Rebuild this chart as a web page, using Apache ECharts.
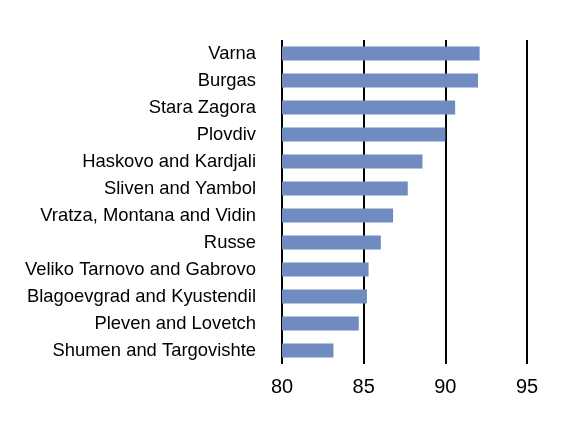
<!DOCTYPE html>
<html>
<head>
<meta charset="utf-8">
<script src="https://cdn.jsdelivr.net/npm/echarts@6/dist/echarts.min.js"></script>
<style>
  html, body { margin: 0; padding: 0; background: #fff; }
  #chart { width: 576px; height: 436px; }
</style>
</head>
<body>
<div id="chart"></div>
<script>
  // regions, bottom to top as echarts draws category axis upward
  var regions = [
    'Shumen and Targovishte',
    'Pleven and Lovetch',
    'Blagoevgrad and Kyustendil',
    'Veliko Tarnovo and Gabrovo',
    'Russe',
    'Vratza, Montana and Vidin',
    'Sliven and Yambol',
    'Haskovo and Kardjali',
    'Plovdiv',
    'Stara Zagora',
    'Burgas',
    'Varna'
  ]
  var values = [83.15, 84.7, 85.2, 85.3, 86.05, 86.8, 87.7, 88.6, 90.0, 90.6, 92.0, 92.1]

  var chartDom = document.getElementById('chart')
  var myChart = echarts.init(chartDom, null, { renderer: 'canvas' })

  var option = {
    animation: false,
    textStyle: {
      fontFamily: 'Liberation Sans, Arial, sans-serif'
    },
    grid: {
      left: 282,
      right: 49,
      top: 40,
      bottom: 72
    },
    xAxis: {
      type: 'value',
      min: 80,
      max: 95,
      interval: 5,
      axisLine: { show: false },
      axisTick: { show: false },
      axisLabel: {
        color: '#000',
        fontSize: 20,
        margin: 13
      },
      splitLine: {
        show: true,
        lineStyle: { color: '#000', width: 2 }
      }
    },
    yAxis: {
      type: 'category',
      data: regions,
      axisLine: { show: false },
      axisTick: { show: false },
      axisLabel: {
        color: '#000',
        fontSize: 18.4,
        margin: 26
      }
    },
    series: [
      {
        type: 'bar',
        data: values,
        barWidth: 14,
        itemStyle: { color: '#6f8bbf' }
      }
    ]
  }
  myChart.setOption(option, true)
</script>
</body>
</html>
